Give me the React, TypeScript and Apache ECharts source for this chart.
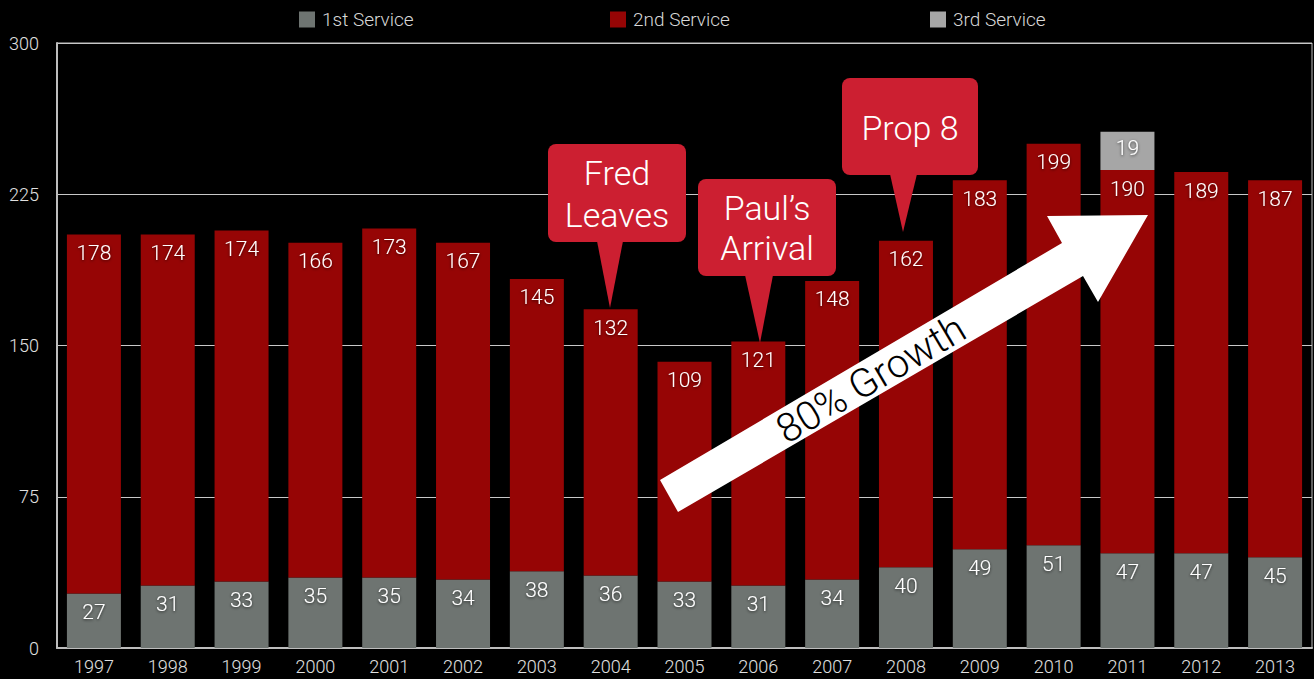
import React, { useEffect, useRef } from "react";
import * as echarts from "echarts";

const years = ["1997","1998","1999","2000","2001","2002","2003","2004","2005","2006","2007","2008","2009","2010","2011","2012","2013"];
const firstService = [27,31,33,35,35,34,38,36,33,31,34,40,49,51,47,47,45];
const secondService = [178,174,174,166,173,167,145,132,109,121,148,162,183,199,190,189,187];
const thirdService = [null,null,null,null,null,null,null,null,null,null,null,null,null,null,19,null,null];
const yTicks = { min: 0, max: 300, interval: 75 };

const FONT = "Roboto, 'Helvetica Neue', Arial, sans-serif";
const CALLOUT = "#cc1f31";

function label(distance: number) {
  return {
    show: true,
    position: "insideTop" as const,
    distance,
    color: "#ffffff",
    fontSize: 21,
    fontFamily: FONT,
    fontWeight: 300 as any,
    textShadowColor: "rgba(0,0,0,0.65)",
    textShadowBlur: 3,
    textShadowOffsetY: 1,
  };
}

function callout(box: number[], base: number[], tip: number[], lines: { t: string; y: number }[]) {
  const [x, y, w, h] = box;
  const els: any[] = [
    { type: "rect", z: 100, shape: { x, y, width: w, height: h, r: 8 }, style: { fill: CALLOUT } },
    { type: "polygon", z: 100, shape: { points: [[base[0], y + h - 1], [base[1], y + h - 1], tip] }, style: { fill: CALLOUT } },
  ];
  lines.forEach((l) => {
    els.push({
      type: "text",
      z: 101,
      x: x + w / 2,
      y: l.y,
      style: { text: l.t, fill: "#ffffff", fontSize: 34, fontFamily: FONT, fontWeight: 300, align: "center", verticalAlign: "middle" },
    });
  });
  return els;
}

export default function App() {
  const ref = useRef<HTMLDivElement>(null);
  useEffect(() => {
    if (!ref.current) return;
    const chart = echarts.init(ref.current, undefined, { renderer: "svg" });
    const legendCommon = {
      top: 10,
      itemWidth: 16,
      itemHeight: 16,
      itemGap: 10,
      icon: "rect",
      textStyle: { color: "#d8d8d8", fontSize: 19, fontFamily: FONT, fontWeight: 300 as any, padding: [0, 0, 0, 2] },
      padding: 0,
    };
    const graphics: any[] = [
      ...callout([548, 144, 138, 98], [597, 623], [610, 308], [{ t: "Fred", y: 173 }, { t: "Leaves", y: 215 }]),
      ...callout([698, 179, 138, 97], [745, 773], [760, 343], [{ t: "Paul\u2019s", y: 208 }, { t: "Arrival", y: 248 }]),
      ...callout([842, 78, 136, 97], [890, 917], [903, 232], [{ t: "Prop 8", y: 128 }]),
      {
        type: "polygon",
        z: 100,
        shape: { points: [[678, 512], [660, 480], [1062, 243], [1047, 216], [1148, 215], [1098, 302], [1083, 276]] },
        style: { fill: "#ffffff" },
      },
      {
        type: "text",
        z: 101,
        x: 871,
        y: 379,
        rotation: (30.6 * Math.PI) / 180,
        style: { text: "80% Growth", fill: "#000000", fontSize: 40, fontFamily: FONT, fontWeight: 300, align: "center", verticalAlign: "middle" },
      },
    ];
    chart.setOption({
      animation: false,
      backgroundColor: "#000000",
      legend: [
        { ...legendCommon, left: 299, data: ["1st Service"] },
        { ...legendCommon, left: 610, data: ["2nd Service"] },
        { ...legendCommon, left: 930, data: ["3rd Service"] },
      ],
      grid: { left: 57, right: 2, top: 43, bottom: 31, show: true, borderColor: "#bdbdbd", borderWidth: 1, backgroundColor: "transparent" },
      xAxis: {
        type: "category",
        data: years,
        axisLine: { show: true, lineStyle: { color: "#bdbdbd", width: 2 } },
        axisTick: { show: false },
        axisLabel: { color: "#e0e0e0", fontSize: 18, fontFamily: FONT, fontWeight: 300 as any, margin: 9 },
      },
      yAxis: {
        type: "value",
        min: yTicks.min,
        max: yTicks.max,
        interval: yTicks.interval,
        axisLine: { show: true, lineStyle: { color: "#bdbdbd", width: 2 } },
        axisTick: { show: false },
        splitLine: { show: true, lineStyle: { color: "#c8c8c8", width: 1 } },
        axisLabel: { color: "#e0e0e0", fontSize: 18, fontFamily: FONT, fontWeight: 300 as any, margin: 18 },
      },
      series: [
        {
          name: "1st Service",
          type: "bar",
          stack: "total",
          data: firstService,
          barWidth: 54,
          itemStyle: { color: "#6e7471" },
          label: label(8),
        },
        {
          name: "2nd Service",
          type: "bar",
          stack: "total",
          data: secondService,
          barWidth: 54,
          itemStyle: { color: "#960505" },
          label: label(8),
        },
        {
          name: "3rd Service",
          type: "bar",
          stack: "total",
          data: thirdService,
          barWidth: 54,
          itemStyle: { color: "#a6a6a6" },
          label: label(6),
        },
      ],
      graphic: { elements: graphics },
    });
    return () => chart.dispose();
  }, []);
  return <div ref={ref} style={{ width: 1314, height: 679, position: "absolute", left: 0, top: 0 }} />;
}
